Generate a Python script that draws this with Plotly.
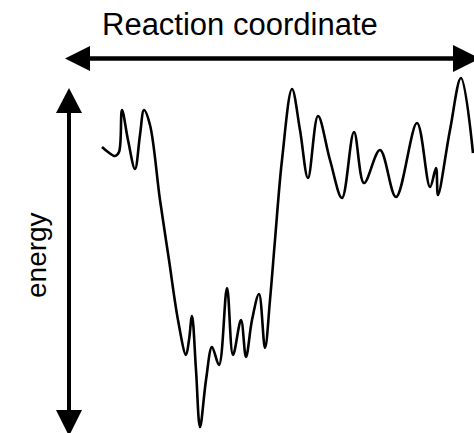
import plotly.graph_objects as go

# Reaction coordinate (horizontal position) and energy (vertical, screen-down)
coord = [102, 108, 115, 119, 122, 128, 135, 140, 144, 150, 160, 169, 178, 186, 189, 192, 196, 200,
         206, 212, 219, 227, 233, 241, 246, 252, 259, 265, 270, 275, 282, 292, 300, 308, 318, 330,
         342, 354, 364, 380, 396, 417, 430, 436, 438, 450, 461, 473]
energy = [147, 152, 156, 152, 110, 140, 169, 135, 110, 125, 200, 260, 320, 355, 340, 316, 370, 427,
          380, 347, 365, 288, 355, 320, 357, 320, 294, 348, 300, 240, 160, 89, 130, 178, 116, 160,
          198, 132, 183, 150, 197, 123, 187, 168, 195, 130, 78, 153]

W, H = 474, 433

fig = go.Figure()
fig.add_trace(go.Scatter(x=coord, y=energy, mode="lines",
                         line=dict(color="black", width=2.6, shape="spline", smoothing=1.0),
                         hoverinfo="skip", showlegend=False, cliponaxis=False))

shapes = []
# horizontal double arrow
shapes.append(dict(type="line", x0=86, x1=456, y0=58.5, y1=58.5, line=dict(color="black", width=4.5)))
shapes.append(dict(type="path", path="M 65 58.5 L 90 46 L 90 71 Z", fillcolor="black", line=dict(width=0)))
shapes.append(dict(type="path", path="M 480 58.5 L 453 45 L 453 72 Z", fillcolor="black", line=dict(width=0)))
# vertical double arrow
shapes.append(dict(type="line", x0=69, x1=69, y0=110, y1=412, line=dict(color="black", width=4)))
shapes.append(dict(type="path", path="M 69 88 L 56 113 L 82 113 Z", fillcolor="black", line=dict(width=0)))
shapes.append(dict(type="path", path="M 69 436 L 56 410 L 82 410 Z", fillcolor="black", line=dict(width=0)))
for s in shapes:
    s.update(xref="x", yref="y", layer="above")

fig.update_layout(
    width=W, height=H,
    margin=dict(l=0, r=0, t=0, b=0),
    paper_bgcolor="white", plot_bgcolor="white",
    xaxis=dict(range=[0, W], visible=False, fixedrange=True),
    yaxis=dict(range=[H, 0], visible=False, fixedrange=True),
    shapes=shapes,
    annotations=[
        dict(text="Reaction coordinate", x=240, y=24, xref="x", yref="y", showarrow=False,
             font=dict(family="Liberation Sans, Arial", size=31, color="black")),
        dict(text="energy", x=36, y=255, xref="x", yref="y", showarrow=False, textangle=-90,
             font=dict(family="Liberation Sans, Arial", size=28, color="black")),
    ],
)

fig.write_html(
    "out.html",
    config={"displayModeBar": False},
    post_script="document.body.style.margin='0';document.body.style.overflow='hidden';"
                "document.documentElement.style.overflow='hidden';",
)
